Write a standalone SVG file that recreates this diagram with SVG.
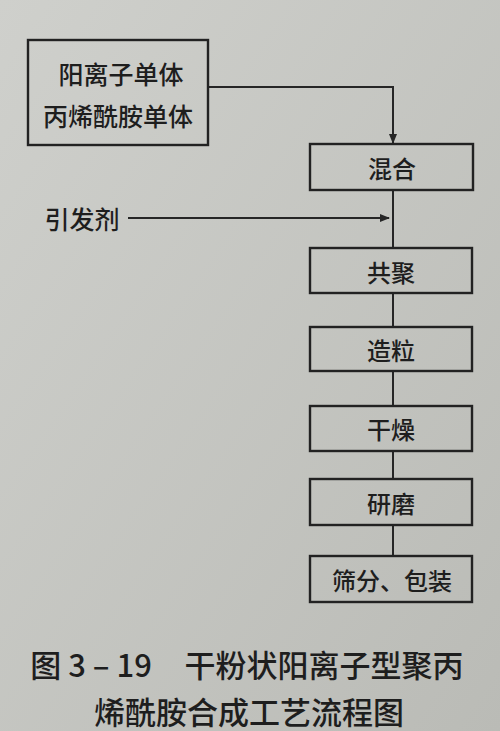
<svg xmlns="http://www.w3.org/2000/svg" width="500" height="731" viewBox="0 0 500 731">
<style>
.box{fill:none;stroke:#222;stroke-width:2.4}
.ln{fill:none;stroke:#262626;stroke-width:2}
.t{font-family:"Noto Sans CJK SC","Liberation Serif",sans-serif;fill:#1e1e1e;text-anchor:middle;dominant-baseline:central;font-weight:500}
.bt{font-size:24px}
.cap{font-size:31px}
</style>
<defs>
<marker id="ah" markerWidth="10" markerHeight="10" refX="9" refY="5" orient="auto" markerUnits="userSpaceOnUse">
<path d="M0,1 L10,5 L0,9 Z" fill="#262626"/>
</marker>
<linearGradient id="bg" x1="0" y1="0" x2="1" y2="1">
<stop offset="0" stop-color="#cfd0cc"/>
<stop offset="1" stop-color="#babbb6"/>
</linearGradient>
</defs>
<rect width="500" height="731" fill="url(#bg)"/>
<g id="connectors">
<polyline class="ln" points="208,87 393,87 393,143" marker-end="url(#ah)"/>
<line class="ln" x1="128" y1="218" x2="389" y2="218" marker-end="url(#ah)"/>
<line class="ln" x1="393" y1="190" x2="393" y2="248"/>
<line class="ln" x1="393" y1="293" x2="393" y2="327"/>
<line class="ln" x1="393" y1="371" x2="393" y2="406"/>
<line class="ln" x1="393" y1="451" x2="393" y2="479"/>
<line class="ln" x1="393" y1="525" x2="393" y2="556"/>
</g>
<g id="monomers">
<rect class="box" x="28" y="40" width="180" height="105"/>
<text class="t" x="121" y="73" font-size="25">阳离子单体</text>
<text class="t" x="118" y="115" font-size="25">丙烯酰胺单体</text>
</g>
<g id="initiator">
<text class="t" x="82" y="218" font-size="25">引发剂</text>
</g>
<g id="mix">
<rect class="box" x="310" y="144" width="163" height="46"/>
<text class="t bt" x="392" y="167">混合</text>
</g>
<g id="copolymer">
<rect class="box" x="310" y="248" width="162" height="45"/>
<text class="t bt" x="391" y="271">共聚</text>
</g>
<g id="granulate">
<rect class="box" x="310" y="327" width="162" height="44"/>
<text class="t bt" x="391" y="349">造粒</text>
</g>
<g id="dry">
<rect class="box" x="310" y="406" width="162" height="45"/>
<text class="t bt" x="391" y="428">干燥</text>
</g>
<g id="grind">
<rect class="box" x="310" y="479" width="162" height="46"/>
<text class="t bt" x="391" y="502">研磨</text>
</g>
<g id="sieve">
<rect class="box" x="310" y="556" width="162" height="46"/>
<text class="t bt" x="392" y="579">筛分、包装</text>
</g>
<g id="caption">
<text class="t cap" x="91" y="663">图 3 – 19</text>
<text class="t cap" x="324" y="663">干粉状阳离子型聚丙</text>
<text class="t cap" x="249" y="710">烯酰胺合成工艺流程图</text>
</g>
</svg>
